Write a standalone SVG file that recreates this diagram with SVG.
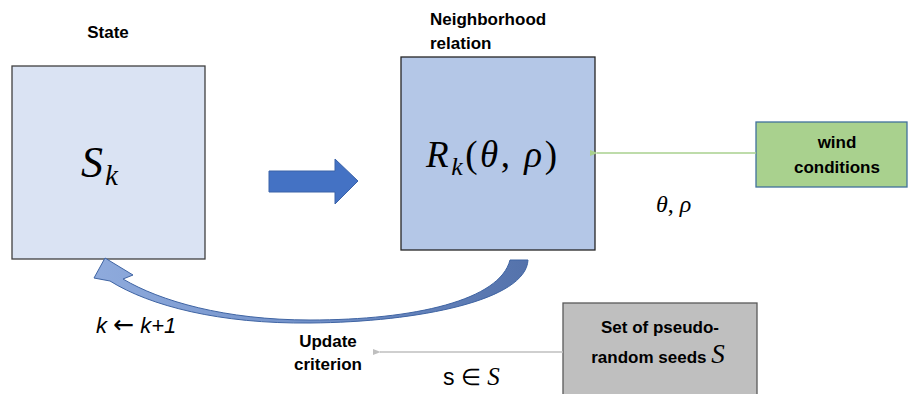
<svg xmlns="http://www.w3.org/2000/svg" width="908" height="394" viewBox="0 0 908 394">
<style>
.lbl{font-family:"Liberation Sans",Arial,sans-serif;font-weight:bold;font-size:17px;fill:#000}
.math{font-family:"Liberation Serif","Times New Roman",serif;font-style:italic;fill:#000}
.box{stroke-width:1.3}
</style>
<defs>
<linearGradient id="curveGrad" x1="100" y1="0" x2="530" y2="0" gradientUnits="userSpaceOnUse">
<stop offset="0" stop-color="#8eaadc"/>
<stop offset="0.5" stop-color="#7190c8"/>
<stop offset="1" stop-color="#5472ab"/>
</linearGradient>
<marker id="arrGreen" viewBox="0 0 10 10" refX="1" refY="5" markerWidth="8" markerHeight="8" markerUnits="userSpaceOnUse" orient="auto">
<path d="M10,1 L0,5 L10,9 Z" fill="#a9d18e"/>
</marker>
<marker id="arrGray" viewBox="0 0 10 10" refX="1" refY="5" markerWidth="8" markerHeight="8" markerUnits="userSpaceOnUse" orient="auto">
<path d="M10,1 L0,5 L10,9 Z" fill="#bfbfbf"/>
</marker>
</defs>
<rect width="908" height="394" fill="#fff"/>

<g id="state">
<text class="lbl" x="108" y="38" text-anchor="middle">State</text>
<rect class="box" x="12" y="66" width="193" height="193" fill="#dae3f3" stroke="#404040"/>
<text class="math" x="81" y="177" font-size="44">S<tspan font-size="29" dx="2" dy="8">k</tspan></text>
</g>

<g id="neighborhood">
<text class="lbl" x="430" y="25">Neighborhood</text>
<text class="lbl" x="430" y="49">relation</text>
<rect class="box" x="401" y="57" width="194" height="193" fill="#b4c7e7" stroke="#262626"/>
<text class="math" x="426" y="167" font-size="37" textLength="131" lengthAdjust="spacing">R<tspan font-size="26" dy="8">k</tspan><tspan dy="-8" font-style="normal">(</tspan>θ<tspan font-style="normal">, </tspan>ρ<tspan font-style="normal">)</tspan></text>
</g>

<g id="wind">
<rect class="box" x="756" y="122" width="151" height="65" fill="#a9d18e" stroke="#41719c"/>
<text class="lbl" x="837" y="148" text-anchor="middle">wind</text>
<text class="lbl" x="837" y="173" text-anchor="middle">conditions</text>
</g>

<g id="seeds">
<rect class="box" x="563" y="303" width="194" height="100" fill="#bfbfbf" stroke="#595959"/>
<text class="lbl" x="660" y="333" text-anchor="middle">Set of pseudo-</text>
<text class="lbl" x="658" y="363" text-anchor="middle">random seeds <tspan class="math" font-weight="normal" font-size="27">S</tspan></text>
</g>

<g id="update">
<text class="lbl" x="328" y="347" text-anchor="middle">Update</text>
<text class="lbl" x="328" y="370" text-anchor="middle">criterion</text>
</g>

<g id="connectors">
<polygon points="269,171 335,171 335,159 358,181 335,204 335,192 269,192" fill="#4472c4" stroke="#3a62a8" stroke-width="1"/>
<path d="M510,260 L528,260 C526,300 420,322 310,323 C220,324 150,306 110,281 L94,278 L105,258 L133,275 L123,279 C160,301 225,320 310,320 C415,320 500,300 510,260 Z" fill="url(#curveGrad)" stroke="#3f64a3" stroke-width="1"/>
<line x1="756" y1="153" x2="597" y2="153" stroke="#a9d18e" stroke-width="1.3" marker-end="url(#arrGreen)"/>
<line x1="563" y1="352" x2="380" y2="352" stroke="#bfbfbf" stroke-width="1.3" marker-end="url(#arrGray)"/>
</g>

<text class="math" x="656" y="212" font-size="24">θ<tspan font-style="normal">, </tspan>ρ</text>
<text x="96" y="333" font-family="Liberation Sans,Arial,sans-serif" font-style="italic" font-size="22" fill="#000">k <tspan font-family="DejaVu Sans,sans-serif" font-style="normal" font-size="25">←</tspan> k+1</text>
<text x="443" y="385" font-family="Liberation Sans,Arial,sans-serif" font-size="23" fill="#000">s ∈ <tspan class="math" font-size="25">S</tspan></text>
</svg>
